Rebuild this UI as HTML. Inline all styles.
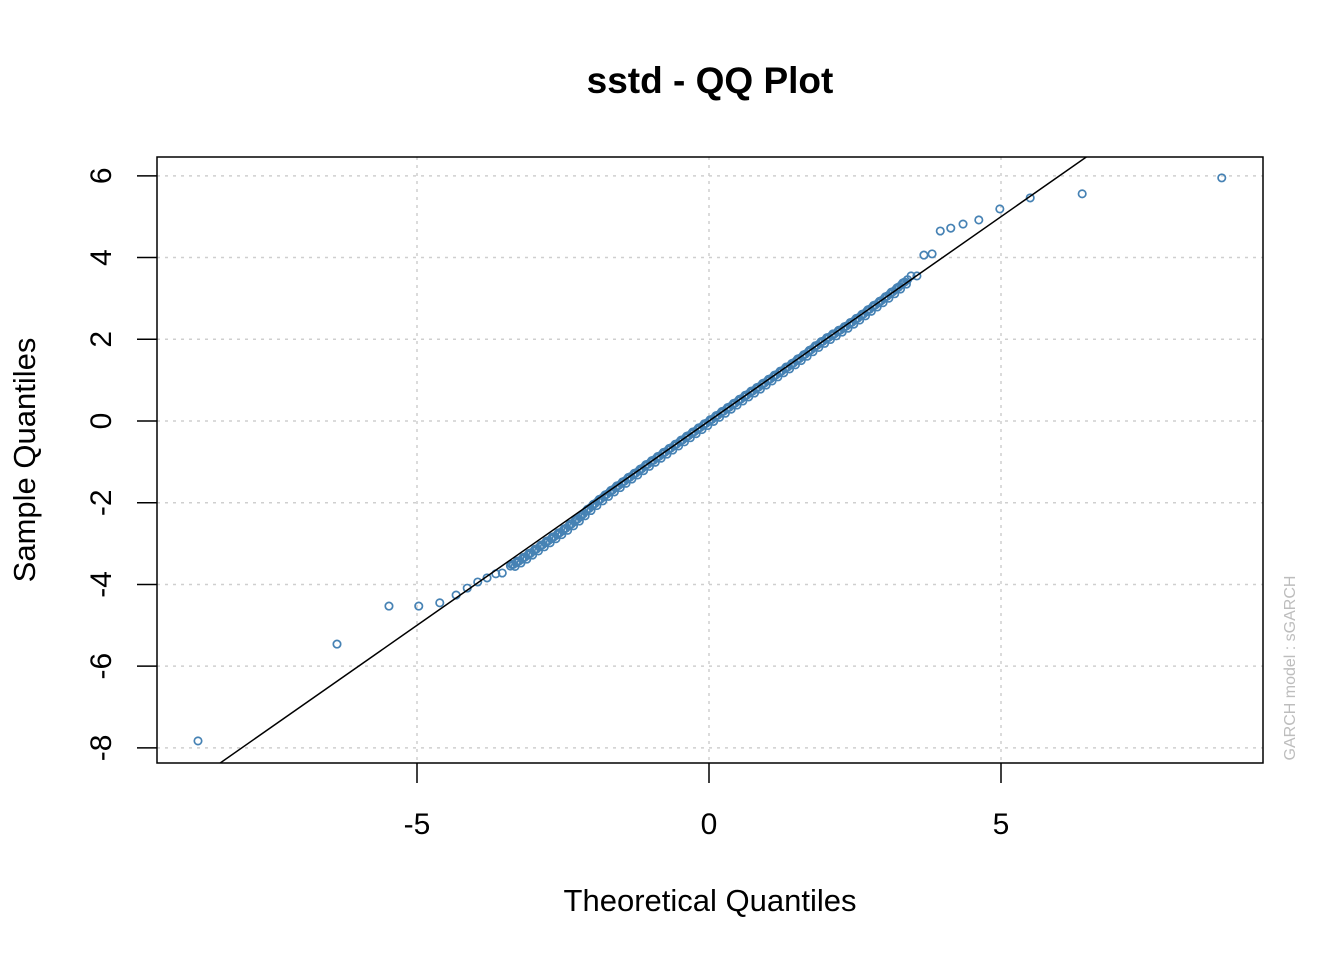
<!DOCTYPE html>
<html><head><meta charset="utf-8"><style>
body{margin:0;background:#fff}
svg{display:block;font-family:"Liberation Sans",Arial,sans-serif}
</style></head><body>
<svg id="chart" width="1344" height="960" viewBox="0 0 1344 960">
<rect x="0" y="0" width="1344" height="960" fill="#fff"/>
<text x="710" y="93" text-anchor="middle" font-size="37" font-weight="bold">sstd - QQ Plot</text>
<g id="grid"></g>
<g id="axes"></g>
<g id="points"></g>
<rect x="157" y="157" width="1106" height="606" fill="none" stroke="#000" stroke-width="1.5"/>
<text x="710" y="911" text-anchor="middle" font-size="31">Theoretical Quantiles</text>
<text transform="translate(35,460) rotate(-90)" text-anchor="middle" font-size="31">Sample Quantiles</text>
<text transform="translate(1295,668) rotate(-90)" text-anchor="middle" font-size="16" fill="#bdbdbd">GARCH model :  sGARCH</text>
</svg>
<script>
const xTicks=[-5,0,5];
const yTicks=[-8,-6,-4,-2,0,2,4,6];
const tailX=[8.78,6.39,5.50,4.98,4.62,4.35,4.14,3.96,3.82,3.68,3.56,3.46,-8.75,-6.37,-5.48,-4.97,-4.61,-4.33,-4.14,-3.96,-3.80,-3.65,-3.54];
const tailY=[5.95,5.56,5.46,5.19,4.92,4.82,4.72,4.65,4.09,4.06,3.55,3.55,-7.83,-5.46,-4.53,-4.53,-4.45,-4.26,-4.09,-3.94,-3.84,-3.74,-3.72];
const bodyX=[-3.4,-3.3,-3.2,-3.1,-3.0,-2.9,-2.8,-2.7,-2.6,-2.5,-2.4,-2.3,-2.2,-2.1,-2.0,-1.9,-1.8,-1.7,-1.6,-1.5,-1.4,-1.3,-1.2,-1.1,-1.0,-0.9,-0.8,-0.7,-0.6,-0.5,-0.4,-0.3,-0.2,-0.1,0.0,0.1,0.2,0.3,0.4,0.5,0.6,0.7,0.8,0.9,1.0,1.1,1.2,1.3,1.4,1.5,1.6,1.7,1.8,1.9,2.0,2.1,2.2,2.3,2.4,2.5,2.6,2.7,2.8,2.9,3.0,3.1,3.2,3.3,3.4];
const bodyY=[-3.55,-3.47,-3.38,-3.28,-3.18,-3.08,-2.98,-2.88,-2.78,-2.68,-2.57,-2.46,-2.34,-2.20,-2.08,-1.96,-1.85,-1.74,-1.63,-1.53,-1.42,-1.32,-1.22,-1.11,-1.01,-0.91,-0.81,-0.71,-0.61,-0.51,-0.41,-0.31,-0.21,-0.11,-0.01,0.09,0.19,0.29,0.39,0.49,0.59,0.69,0.78,0.88,0.98,1.08,1.18,1.28,1.37,1.48,1.58,1.69,1.80,1.90,2.00,2.09,2.18,2.27,2.37,2.47,2.57,2.68,2.79,2.89,3.00,3.11,3.22,3.34,3.46];
const lineSlope=1.0, lineIntercept=0.0;

const sx=v=>709+v*58.4;
const sy=v=>421-v*40.86;
const NS="http://www.w3.org/2000/svg";
function mk(tag,attrs,parent){const e=document.createElementNS(NS,tag);for(const k in attrs)e.setAttribute(k,attrs[k]);parent.appendChild(e);return e;}
const grid=document.getElementById('grid'),axes=document.getElementById('axes'),pts=document.getElementById('points');
xTicks.forEach(t=>{
  const g=mk('line',{x1:sx(t),x2:sx(t),y1:157,y2:763,stroke:'#cfcfcf','stroke-width':1.5,'stroke-dasharray':'3,5'},grid);
  
  
  const l=mk('line',{x1:sx(t),x2:sx(t),y1:763,y2:783,stroke:'#000','stroke-width':1.5},axes);
  
  
  const tx=mk('text',{x:sx(t),y:834,'text-anchor':'middle','font-size':30},axes);
  tx.textContent=String(t);
  
  
});
yTicks.forEach(t=>{
  const g=mk('line',{x1:157,x2:1263,y1:sy(t),y2:sy(t),stroke:'#cfcfcf','stroke-width':1.5,'stroke-dasharray':'3,5'},grid);
  
  
  const l=mk('line',{x1:137,x2:157,y1:sy(t),y2:sy(t),stroke:'#000','stroke-width':1.5},axes);
  
  
  const tx=mk('text',{transform:`translate(111,${sy(t)}) rotate(-90)`,'text-anchor':'middle','font-size':30},axes);
  tx.textContent=String(t);
  
  
});
function dot(x,y){
  const c=mk('circle',{cx:sx(x),cy:sy(y),r:3.7,fill:'none',stroke:'#4682B4','stroke-width':1.7},pts);
  
  
}
bodyX.forEach((x,i)=>{
  dot(x,bodyY[i]);
  if(i<bodyX.length-1){
    const mx=(x+bodyX[i+1])/2,my=(bodyY[i]+bodyY[i+1])/2;
    dot(mx,my);dot(mx+0.03,my-0.05);dot(x+0.02,bodyY[i]+0.04);
  }
});
tailX.forEach((x,i)=>dot(x,tailY[i]));
const x0=-8.4,x1=6.5;
const ln=mk('line',{x1:sx(x0),y1:sy(lineIntercept+lineSlope*x0),x2:sx(x1),y2:sy(lineIntercept+lineSlope*x1),stroke:'#000','stroke-width':1.5},pts);


const cp=mk('clipPath',{id:'clp'},document.getElementById('chart'));
mk('rect',{x:157,y:157,width:1106,height:606},cp);
ln.setAttribute('clip-path','url(#clp)');
</script>
</body></html>
